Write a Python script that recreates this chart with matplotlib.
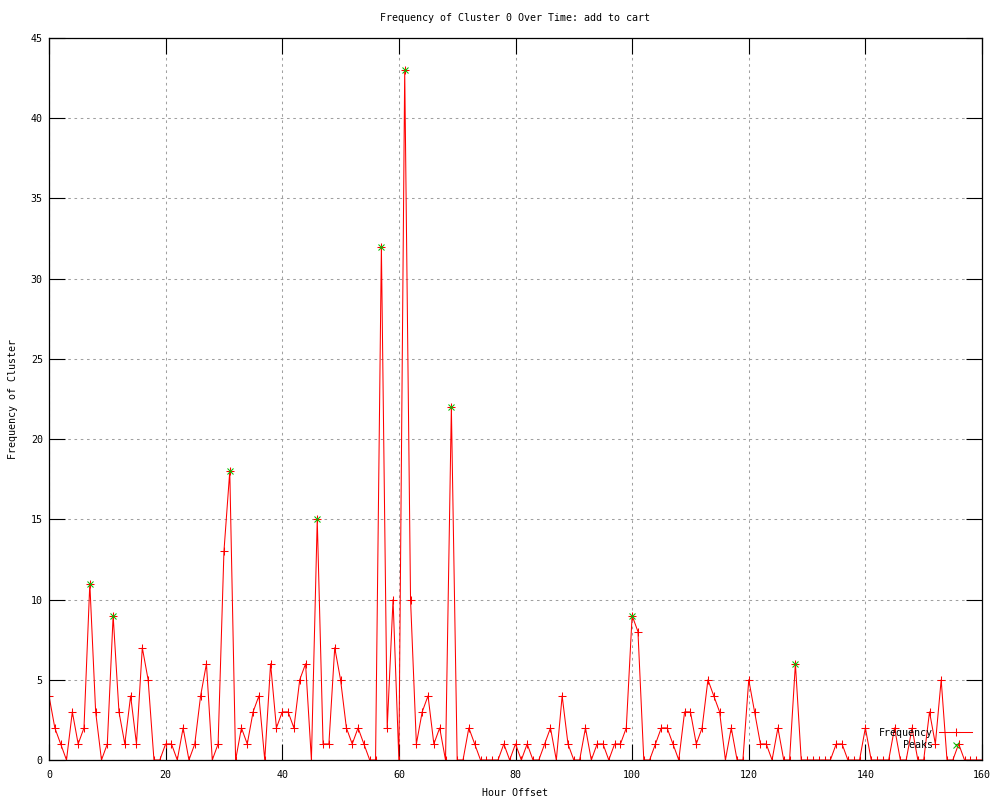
import numpy as np
import matplotlib
matplotlib.use("Agg")
import matplotlib.pyplot as plt

plt.rcParams['font.family'] = ['DejaVu Sans Mono', 'DejaVu Sans']
plt.rcParams['font.size'] = 7.2

# hourly counts, hour offset 0..160
hours = np.arange(0, 161)
freq = [4, 2, 1, 0, 3, 1, 2, 11, 3, 0,
        1, 9, 3, 1, 4, 1, 7, 5, 0, 0,
        1, 1, 0, 2, 0, 1, 4, 6, 0, 1,
        13, 18, 0, 2, 1, 3, 4, 0, 6, 2,
        3, 3, 2, 5, 6, 0, 15, 1, 1, 7,
        5, 2, 1, 2, 1, 0, 0, 32, 2, 10,
        0, 43, 10, 1, 3, 4, 1, 2, 0, 22,
        0, 0, 2, 1, 0, 0, 0, 0, 1, 0,
        1, 0, 1, 0, 0, 1, 2, 0, 4, 1,
        0, 0, 2, 0, 1, 1, 0, 1, 1, 2,
        9, 8, 0, 0, 1, 2, 2, 1, 0, 3,
        3, 1, 2, 5, 4, 3, 0, 2, 0, 0,
        5, 3, 1, 1, 0, 2, 0, 0, 6, 0,
        0, 0, 0, 0, 0, 1, 1, 0, 0, 0,
        2, 0, 0, 0, 0, 2, 0, 0, 2, 0,
        0, 3, 1, 5, 0, 0, 1, 0, 0, 0,
        0]

peak_hours = [7, 11, 31, 46, 57, 61, 69, 100, 128]
peak_vals = [freq[h] for h in peak_hours]

xticks = np.arange(0, 161, 20)
yticks = np.arange(0, 46, 5)

fig = plt.figure(figsize=(10, 8), dpi=100)
ax = fig.add_axes([0.049, 0.05, 0.933, 0.9025])

ax.plot(hours, freq, color='red', lw=0.75, marker='+', ms=6, mew=0.75,
        label='Frequency')
ax.plot(peak_hours, peak_vals, ls='none', color='#00c000', marker='x',
        ms=5, mew=0.75, label='Peaks')

ax.set_xlim(0, 160)
ax.set_ylim(0, 45)
ax.set_xticks(xticks)
ax.set_yticks(yticks)
ax.grid(True, color='#a0a0a0', lw=0.75, ls=(0, (2.5, 3.5)))
ax.tick_params(direction='in', length=11.5, width=0.8, top=True, right=True,
               color='black')
ax.tick_params(axis='x', pad=7)
ax.tick_params(axis='y', pad=4.5)
for s in ax.spines.values():
    s.set_linewidth(0.9)

ax.set_title('Frequency of Cluster 0 Over Time: add to cart', fontsize=7.2, pad=12)
ax.set_xlabel('Hour Offset')
ax.set_ylabel('Frequency of Cluster')
ax.xaxis.set_label_coords(0.5, -0.039)
ax.yaxis.set_label_coords(-0.033, 0.5)

leg = ax.legend(loc='lower right', frameon=False, markerfirst=False,
                handlelength=3.3, handletextpad=0.6, labelspacing=0.25,
                borderaxespad=0.6, bbox_to_anchor=(1.0, 0.0))
try:
    for col in leg._legend_handle_box.get_children():
        col.align = 'right'
except Exception:
    pass

fig.savefig('out.png', dpi=100)
